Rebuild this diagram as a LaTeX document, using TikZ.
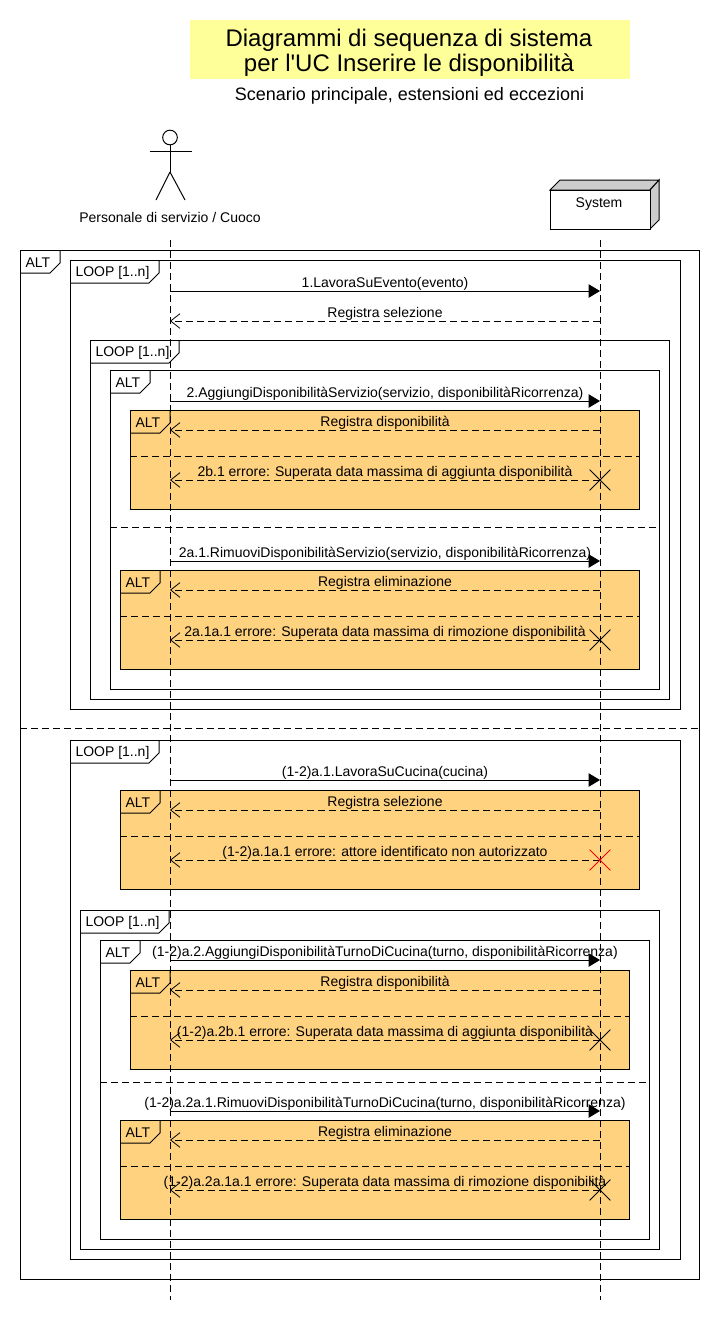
\documentclass[tikz,border=0pt]{standalone}
\usepackage{fontspec}
\setmainfont{Liberation Sans}
\usetikzlibrary{arrows.meta,shapes.misc}

% x y w label: the tag in the corner of a fragment
\newcommand{\fragment}[7]{%
  \draw[#7] (#2,#3) rectangle (#4,#5);
  \draw[frameline] (#2,#3+23) -- (#2+#1-10,#3+23) -- (#2+#1,#3+13) -- (#2+#1,#3);
  \node[taglabel] (#6) at (#2+5,#3+12.5) {\ifnum#1>50 LOOP [1..n]\else ALT\fi};
}
\newcommand{\callmsg}[3]{%
  \coordinate (#1-a) at (170,#2);
  \coordinate (#1-s) at (600,#2);
  \draw[callarrow] (#1-a) -- (#1-s);
  \node[msglabel] (#1-text) at (385,#2-4) {#3};
}
\newcommand{\retmsg}[3]{%
  \coordinate (#1-a) at (170,#2);
  \coordinate (#1-s) at (600,#2);
  \draw[retarrow] (#1-s) -- (#1-a);
  \node[msglabel] (#1-text) at (385,#2-4) {#3};
}

\begin{document}
\begin{tikzpicture}[
  x=0.75pt,y=-0.75pt,
  line width=0.75pt,
  frameline/.style={draw=black,line width=0.75pt},
  plainframe/.style={frameline},
  altframe/.style={frameline,fill=altorange},
  divider/.style={draw=black,line width=0.75pt,dash pattern=on 5.25pt off 3pt},
  lifeline/.style={draw=black,line width=0.6pt,dash pattern=on 5.25pt off 3pt},
  taglabel/.style={anchor=west,inner sep=0pt,font=\fontsize{10.5}{12}\selectfont},
  msglabel/.style={anchor=base,inner sep=0pt,font=\fontsize{10.5}{12}\selectfont},
  callarrow/.style={line width=0.75pt,-{Triangle[length=8.5pt,width=10pt]}},
  retarrow/.style={line width=0.6pt,dash pattern=on 5.25pt off 3pt,
    -{Straight Barb[length=7pt,width=11pt,line width=0.6pt]}},
  destroy/.style={cross out,draw=black,line width=0.6pt,minimum size=15pt,inner sep=0pt},
]
\definecolor{altorange}{HTML}{FFD27F}
\definecolor{titleyellow}{HTML}{FFFF99}
\useasboundingbox (0,0) rectangle (720,1340);

\node[fill=titleyellow,minimum width=330pt,minimum height=44.25pt,inner sep=0pt] (titlebox) at (410,49.5) {};
\node[inner sep=0pt,align=center,font=\fontsize{18}{18.75}\selectfont] (title) at (409,53)
  {Diagrammi di sequenza di sistema\\per l\textquotesingle UC Inserire le disponibilità};
\node[font=\fontsize{13.5}{15}\selectfont,inner sep=0pt] (subtitle) at (409.5,96)
  {Scenario principale, estensioni ed eccezioni};

% actor and system
\draw (170,137.5) circle (5.5pt);
\draw (170,144.8) -- (170,172);
\draw (149.5,151) -- (192,151);
\draw (170,172) -- (156,200);
\draw (170,172) -- (185,200);
\node[msglabel] (actor) at (170,222) {Personale di servizio / Cuoco};

\draw[fill=gray!40] (550,190) -- (560,180) -- (659,180) -- (650,190) -- cycle;
\draw[fill=gray!40] (650,190) -- (659,180) -- (659,220) -- (650,229) -- cycle;
\node[draw,fill=white,minimum width=75pt,minimum height=29.25pt,inner sep=0pt] (systembox) at (600,209.5) {};
\node[msglabel] (system) at (599,207) {System};

% fragments
\fragment{40}{20}{250}{699}{1279}{alt0}{plainframe}
\draw[divider] (20,728) coordinate (div0-l) -- (699,728) coordinate (div0-r);

\fragment{89}{70}{260}{680}{709}{loop1}{plainframe}
\fragment{89}{90}{340}{669}{699}{loop2}{plainframe}
\fragment{40}{110}{370}{659}{689}{alt3}{plainframe}
\draw[divider] (110,527) coordinate (div3-l) -- (659,527) coordinate (div3-r);
\fragment{40}{130}{410}{639}{509}{alt4}{altframe}
\draw[divider] (130,456) coordinate (div4-l) -- (639,456) coordinate (div4-r);
\fragment{40}{120}{570}{639}{669}{alt5}{altframe}
\draw[divider] (120,616) coordinate (div5-l) -- (639,616) coordinate (div5-r);

\fragment{89}{70}{740}{680}{1259}{loop6}{plainframe}
\fragment{40}{120}{790}{639}{889}{alt7}{altframe}
\draw[divider] (120,836) coordinate (div7-l) -- (639,836) coordinate (div7-r);
\fragment{89}{80}{910}{659}{1249}{loop8}{plainframe}
\fragment{40}{100}{940}{649}{1239}{alt9}{plainframe}
\draw[divider] (100,1082) coordinate (div9-l) -- (649,1082) coordinate (div9-r);
\fragment{40}{130}{970}{629}{1069}{alt10}{altframe}
\draw[divider] (130,1016) coordinate (div10-l) -- (629,1016) coordinate (div10-r);
\fragment{40}{120}{1120}{629}{1219}{alt11}{altframe}
\draw[divider] (120,1166) coordinate (div11-l) -- (629,1166) coordinate (div11-r);

% lifelines
\coordinate (actor-top) at (170,240);
\coordinate (actor-end) at (170,1300);
\coordinate (system-top) at (600,240);
\coordinate (system-end) at (600,1300);
\draw[lifeline] (actor-top) -- (actor-end);
\draw[lifeline] (system-top) -- (system-end);

% messages
\callmsg{m1}{291}{1.LavoraSuEvento(evento)}
\retmsg{m2}{321}{Registra selezione}
\callmsg{m3}{401}{2.AggiungiDisponibilitàServizio(servizio, disponibilitàRicorrenza)}
\retmsg{m4}{430}{Registra disponibilità}
\retmsg{m5}{480}{2b.1 errore: Superata data massima di aggiunta disponibilità}
\node[destroy] (x5) at (m5-s) {};
\callmsg{m6}{561}{2a.1.RimuoviDisponibilitàServizio(servizio, disponibilitàRicorrenza)}
\retmsg{m7}{590}{Registra eliminazione}
\retmsg{m8}{640}{2a.1a.1 errore: Superata data massima di rimozione disponibilità}
\node[destroy] (x8) at (m8-s) {};

\callmsg{m9}{780}{(1-2)a.1.LavoraSuCucina(cucina)}
\retmsg{m10}{810}{Registra selezione}
\retmsg{m11}{860}{(1-2)a.1a.1 errore: attore identificato non autorizzato}
\node[destroy,draw=red] (x11) at (m11-s) {};
\callmsg{m12}{960}{(1-2)a.2.AggiungiDisponibilitàTurnoDiCucina(turno, disponibilitàRicorrenza)}
\retmsg{m13}{990}{Registra disponibilità}
\retmsg{m14}{1040}{(1-2)a.2b.1 errore: Superata data massima di aggiunta disponibilità}
\node[destroy] (x14) at (m14-s) {};
\callmsg{m15}{1111}{(1-2)a.2a.1.RimuoviDisponibilitàTurnoDiCucina(turno, disponibilitàRicorrenza)}
\retmsg{m16}{1140}{Registra eliminazione}
\retmsg{m17}{1190}{(1-2)a.2a.1a.1 errore: Superata data massima di rimozione disponibilità}
\node[destroy] (x17) at (m17-s) {};
\end{tikzpicture}
\end{document}
